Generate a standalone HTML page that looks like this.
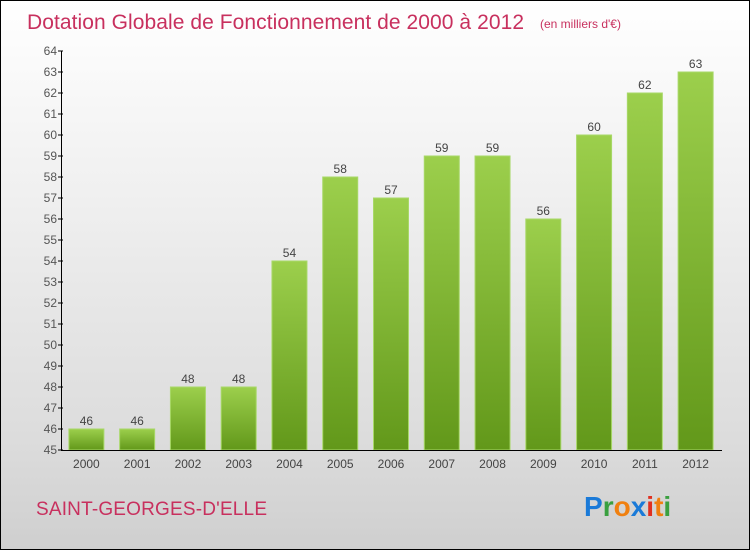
<!DOCTYPE html>
<html><head><meta charset="utf-8"><style>
body{margin:0}
#c{position:relative;width:748px;height:548px;border:1px solid #000;background:linear-gradient(#fff,#f2f2f2 30%,#dcdcdc 80%,#cfcfcf);overflow:hidden;font-family:"Liberation Sans",sans-serif}
</style></head><body>
<div id="c">
<svg width="748" height="548" id="svg">
<defs><linearGradient id="g" x1="0" y1="0" x2="0" y2="1"><stop offset="0" stop-color="#9ccf4c"/><stop offset="1" stop-color="#62981a"/></linearGradient></defs>
<text x="26" y="28" font-size="21" fill="#c8305e" textLength="497">Dotation Globale de Fonctionnement de 2000 à 2012</text>
<text x="539" y="27" font-size="12" fill="#c8305e">(en milliers d'€)</text>
<text x="35" y="514" font-size="19" fill="#c8305e" textLength="231">SAINT-GEORGES-D'ELLE</text>
<text x="583" y="515" font-size="28" font-weight="bold"><tspan fill="#1a7ad8">P</tspan><tspan fill="#3aa040">r</tspan><tspan fill="#f08010">o</tspan><tspan fill="#1a7ad8">x</tspan><tspan fill="#e03020">i</tspan><tspan fill="#f08010">t</tspan><tspan fill="#3aa040">i</tspan></text>
<g id="plot"></g>
</svg>
</div>
<script>
const categories=["2000","2001","2002","2003","2004","2005","2006","2007","2008","2009","2010","2011","2012"];
const values=[46,46,48,48,54,58,57,59,59,56,60,62,63];
const yTicks=[45,46,47,48,49,50,51,52,53,54,55,56,57,58,59,60,61,62,63,64];
const x0=60,x1=720,yTop=50,yBot=449,vMin=45,vMax=64;
const y=v=>yBot-(v-vMin)*(yBot-yTop)/(vMax-vMin);
const band=(x1-x0)/categories.length;
const xc=i=>x0+band*(i+0.5);
const NS="http://www.w3.org/2000/svg";
const g=document.getElementById('plot');
function mk(t,a,txt){const e=document.createElementNS(NS,t);for(const k in a)e.setAttribute(k,a[k]);if(txt!=null)e.textContent=txt;g.appendChild(e);return e;}
values.forEach((v,i)=>{
 const r=mk('rect',{x:xc(i)-17.5,y:y(v),width:35,height:yBot-y(v),fill:'url(#g)',stroke:'#a8d868','stroke-width':1});
 
 
 const t=mk('text',{x:xc(i),y:y(v)-4,'font-size':12,fill:'#444','text-anchor':'middle'},v);
 
 
 const l=mk('text',{x:xc(i),y:467,'font-size':12,fill:'#444','text-anchor':'middle'},categories[i]);
 
 
});
yTicks.forEach(v=>{
 const tk=mk('line',{x1:x0-3,x2:x0+2,y1:y(v),y2:y(v),stroke:'#000'});
 
 
 const t=mk('text',{x:x0-4,y:y(v)+4,'font-size':12,fill:'#555','text-anchor':'end'},v);
 
 
});
const ya=mk('line',{x1:x0+0.5,x2:x0+0.5,y1:yTop,y2:yBot+1,stroke:'#000'});


const xa=mk('line',{x1:x0,x2:x1+1,y1:yBot+0.5,y2:yBot+0.5,stroke:'#000'});


</script>
</body></html>
